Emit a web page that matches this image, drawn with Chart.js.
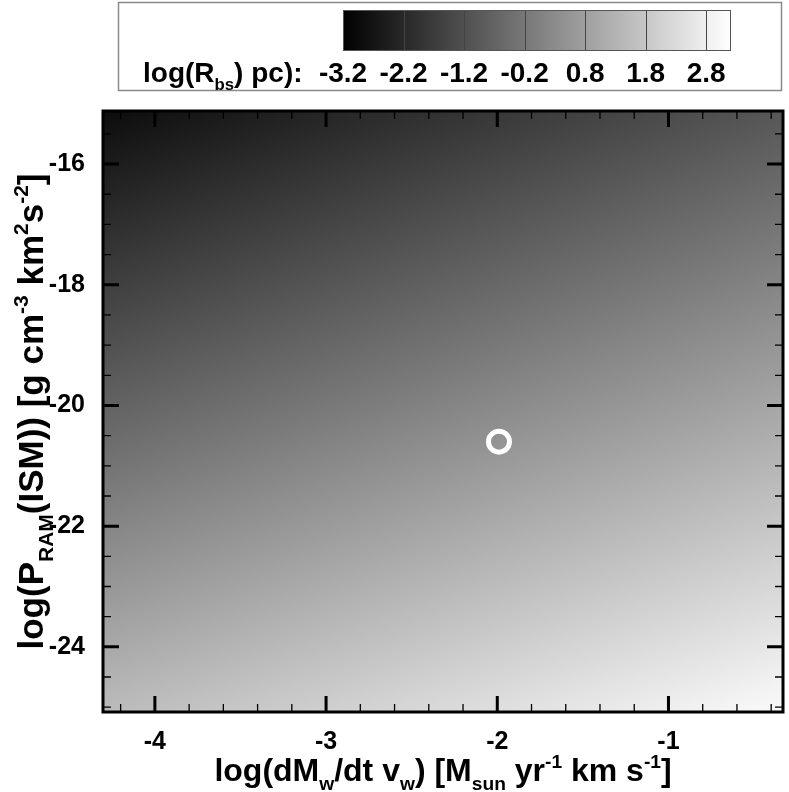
<!DOCTYPE html>
<html>
<head>
<meta charset="utf-8">
<script src="https://cdn.jsdelivr.net/npm/chart.js@4.4.1/dist/chart.umd.min.js"></script>
<style>
html, body { margin: 0; padding: 0; background: #fff; }
</style>
</head>
<body>
<canvas id="myChart" width="789" height="792"></canvas>
<script>
// axes
var xTicks = [-4, -3, -2, -1];
var yTicks = [-24, -22, -20, -18, -16];
var xRange = [-4.303, -0.331];
var yRange = [-25.08, -15.12];

var gridX = [-4.3, -2.3, -0.33];
var gridY = [-25.08, -20.1, -15.12];
var gridVals = [
  [1.5, 2.3, 3.09],       // y = -25.08
  [-0.7, 0.16, 1.02],     // y = -20.1
  [-2.9, -1.95, -1.02]    // y = -15.12
];

// contour levels of the legend
var levels = [-3.2, -2.2, -1.2, -0.2, 0.8, 1.8, 2.8];
var levelMax = 3.21;

// marked model
var pointX = [-1.99];
var pointY = [-20.6];

var FONT = '"Liberation Sans", Arial, Helvetica, sans-serif';

function findCell(arr, v) {
  var i = 0;
  while (i < arr.length - 2 && v > arr[i + 1]) i++;
  return i;
}
function fieldAt(x, y) {
  var i = findCell(gridX, x), j = findCell(gridY, y);
  var tx = (x - gridX[i]) / (gridX[i + 1] - gridX[i]);
  var ty = (y - gridY[j]) / (gridY[j + 1] - gridY[j]);
  var a = gridVals[j][i], b = gridVals[j][i + 1];
  var c = gridVals[j + 1][i], d = gridVals[j + 1][i + 1];
  return (a * (1 - tx) + b * tx) * (1 - ty) + (c * (1 - tx) + d * tx) * ty;
}
function grayOf(v) {
  var t = (v - levels[0]) / (levelMax - levels[0]);
  t = Math.max(0, Math.min(1, t));
  return Math.round(t * 255);
}

// rich text: parts = [[text, 0 normal | 1 sub | 2 sup], ...]
function richWidth(ctx, parts, size) {
  var w = 0;
  parts.forEach(function (p) {
    var s = p[1] ? size * 0.6 : size;
    ctx.font = 'bold ' + s + 'px ' + FONT;
    w += ctx.measureText(p[0]).width;
  });
  return w;
}
function drawRich(ctx, parts, x, y, size) {
  var cx = x;
  parts.forEach(function (p) {
    var s = p[1] ? size * 0.6 : size;
    var dy = p[1] === 1 ? size * 0.28 : (p[1] === 2 ? -size * 0.42 : 0);
    ctx.font = 'bold ' + s + 'px ' + FONT;
    ctx.fillText(p[0], cx, y + dy);
    cx += ctx.measureText(p[0]).width;
  });
}

var heatPlugin = {
  id: 'heat',
  beforeDatasetsDraw: function (chart) {
    var a = chart.chartArea, xs = chart.scales.x, ys = chart.scales.y;
    var w = Math.round(a.right - a.left), h = Math.round(a.bottom - a.top);
    var off = document.createElement('canvas');
    off.width = w; off.height = h;
    var octx = off.getContext('2d');
    var img = octx.createImageData(w, h);
    for (var j = 0; j < h; j++) {
      var yv = ys.getValueForPixel(a.top + j + 0.5);
      for (var i = 0; i < w; i++) {
        var xv = xs.getValueForPixel(a.left + i + 0.5);
        var g = grayOf(fieldAt(xv, yv));
        var k = (j * w + i) * 4;
        img.data[k] = img.data[k + 1] = img.data[k + 2] = g;
        img.data[k + 3] = 255;
      }
    }
    octx.putImageData(img, 0, 0);
    chart.ctx.drawImage(off, a.left, a.top);
  }
};

var framePlugin = {
  id: 'frame',
  afterDraw: function (chart) {
    var ctx = chart.ctx, a = chart.chartArea, xs = chart.scales.x, ys = chart.scales.y;
    ctx.save();
    ctx.strokeStyle = '#000';
    ctx.lineCap = 'butt';

    // inward ticks, all four sides
    function xTick(v, len, lw) {
      var px = xs.getPixelForValue(v);
      ctx.lineWidth = lw;
      ctx.beginPath();
      ctx.moveTo(px, a.bottom); ctx.lineTo(px, a.bottom - len);
      ctx.moveTo(px, a.top); ctx.lineTo(px, a.top + len);
      ctx.stroke();
    }
    function yTick(v, len, lw) {
      var py = ys.getPixelForValue(v);
      ctx.lineWidth = lw;
      ctx.beginPath();
      ctx.moveTo(a.left, py); ctx.lineTo(a.left + len, py);
      ctx.moveTo(a.right, py); ctx.lineTo(a.right - len, py);
      ctx.stroke();
    }
    var v;
    for (v = Math.ceil(xRange[0] / 0.2) * 0.2; v <= xRange[1]; v += 0.2) {
      if (Math.abs(v - Math.round(v)) > 1e-6) xTick(v, 8, 1.3);
    }
    for (v = Math.ceil(yRange[0] / 0.5) * 0.5; v <= yRange[1]; v += 0.5) {
      if (Math.abs(v / 2 - Math.round(v / 2)) > 1e-6) yTick(v, 8, 1.3);
    }
    xTicks.forEach(function (t) { xTick(t, 16, 3); });
    yTicks.forEach(function (t) { yTick(t, 16, 3); });

    ctx.lineWidth = 3;
    ctx.strokeRect(a.left, a.top, a.right - a.left, a.bottom - a.top);

    // axis titles
    ctx.fillStyle = '#000';
    ctx.textBaseline = 'alphabetic';
    ctx.textAlign = 'left';
    var xt = [['log(dM', 0], ['w', 1], ['/dt v', 0], ['w', 1], [') [M', 0], ['sun', 1],
              [' yr', 0], ['-1', 2], [' km s', 0], ['-1', 2], [']', 0]];
    var wx = richWidth(ctx, xt, 32);
    drawRich(ctx, xt, (a.left + a.right) / 2 - wx / 2, 781, 32);

    var yt = [['log(P', 0], ['RAM', 1], ['(ISM)) [g cm', 0], ['-3', 2], [' km', 0], ['2', 2],
              ['s', 0], ['-2', 2], [']', 0]];
    var wy = richWidth(ctx, yt, 35);
    ctx.save();
    ctx.translate(43, (a.top + a.bottom) / 2);
    ctx.rotate(-Math.PI / 2);
    drawRich(ctx, yt, -wy / 2, 0, 35);
    ctx.restore();

    // contour legend
    ctx.strokeStyle = '#8a8a8a';
    ctx.lineWidth = 1.5;
    ctx.strokeRect(118.5, 2.5, 663, 88);

    var bx0 = 343, bx1 = 731, by0 = 10, by1 = 51;
    function levelPx(lv) {
      return bx0 + (lv - levels[0]) / (levelMax - levels[0]) * (bx1 - bx0);
    }
    var grad = ctx.createLinearGradient(bx0, 0, bx1, 0);
    grad.addColorStop(0, 'rgb(0,0,0)');
    grad.addColorStop(1, 'rgb(255,255,255)');
    ctx.fillStyle = grad;
    ctx.fillRect(bx0, by0, bx1 - bx0, by1 - by0);
    ctx.strokeStyle = '#444';
    ctx.lineWidth = 1;
    levels.forEach(function (lv, i) {
      if (i === 0) return;
      var px = Math.round(levelPx(lv)) + 0.5;
      ctx.beginPath(); ctx.moveTo(px, by0); ctx.lineTo(px, by1); ctx.stroke();
    });
    ctx.strokeStyle = '#555';
    ctx.strokeRect(bx0 + 0.5, by0 + 0.5, bx1 - bx0 - 1, by1 - by0 - 1);

    ctx.fillStyle = '#000';
    ctx.textAlign = 'left';
    drawRich(ctx, [['log(R', 0], ['bs', 1], [') pc):', 0]], 143, 82, 28);
    ctx.font = 'bold 28px ' + FONT;
    ctx.textAlign = 'center';
    levels.forEach(function (lv) {
      ctx.fillText(lv.toFixed(1), levelPx(lv), 82);
    });
    ctx.restore();
  }
};

var ctx = document.getElementById('myChart').getContext('2d');
var chart = new Chart(ctx, {
  type: 'scatter',
  data: {
    datasets: [{
      data: pointX.map(function (x, i) { return { x: x, y: pointY[i] }; }),
      pointRadius: 10.5,
      pointHoverRadius: 10.5,
      borderColor: '#ffffff',
      backgroundColor: 'rgba(0,0,0,0)',
      borderWidth: 5,
      pointBorderWidth: 5
    }]
  },
  options: {
    responsive: false,
    animation: false,
    events: [],
    layout: { autoPadding: false, padding: { top: 111, right: 6, left: 0, bottom: 0 } },
    plugins: { legend: { display: false }, tooltip: { enabled: false } },
    scales: {
      x: {
        type: 'linear',
        min: xRange[0],
        max: xRange[1],
        grid: { display: false },
        border: { display: false },
        afterFit: function (s) { s.height = 80; s.paddingLeft = 0; s.paddingRight = 0; },
        afterBuildTicks: function (s) { s.ticks = xTicks.map(function (v) { return { value: v }; }); },
        ticks: {
          color: '#000',
          padding: 7,
          maxRotation: 0,
          autoSkip: false,
          font: { family: FONT, size: 25, weight: 'bold' },
          callback: function (v) { return String(v); }
        }
      },
      y: {
        type: 'linear',
        min: yRange[0],
        max: yRange[1],
        grid: { display: false },
        border: { display: false },
        afterFit: function (s) { s.width = 103; s.paddingTop = 0; s.paddingBottom = 0; },
        afterBuildTicks: function (s) { s.ticks = yTicks.map(function (v) { return { value: v }; }); },
        ticks: {
          color: '#000',
          padding: 10,
          autoSkip: false,
          font: { family: FONT, size: 25, weight: 'bold' },
          callback: function (v) { return String(v); }
        }
      }
    }
  },
  plugins: [heatPlugin, framePlugin]
});
</script>
</body>
</html>
